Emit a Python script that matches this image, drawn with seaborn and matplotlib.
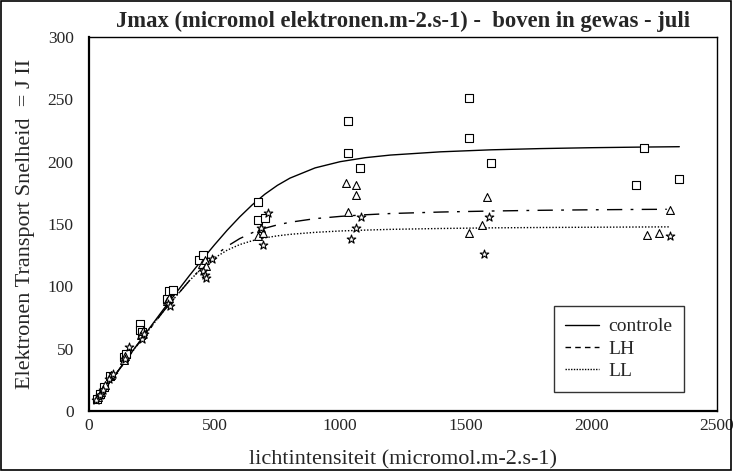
import matplotlib
matplotlib.use("Agg")
import matplotlib.pyplot as plt
from matplotlib.lines import Line2D
from matplotlib.patches import Rectangle
import numpy as np
import pandas as pd
import seaborn as sns

# ---------------- data ----------------
ctrl_x = [30, 45, 58, 85, 140, 147, 205, 203, 212, 310, 318, 335, 439, 453,
          674, 673, 700, 1030, 1030, 1080, 1511, 1511, 1602, 2209, 2176, 2348]
ctrl_y = [10, 14, 19, 28, 43, 46, 70, 65, 63, 90, 96, 97, 121, 125,
          168, 153, 155, 207, 233, 195, 251, 219, 199, 211, 181, 186]

lh_x = [35, 48, 62, 88, 138, 145, 208, 215, 312, 320, 448, 460, 465,
        672, 685, 692, 1022, 1062, 1062, 1031, 1584, 1564, 1513, 2311, 2221, 2271]
lh_y = [11, 15, 21, 29, 41, 44, 61, 64, 88, 91, 118, 121, 116,
        140, 147, 143, 183, 181, 173, 160, 172, 149, 143, 161, 141, 143]

ll_x = [28, 42, 55, 80, 95, 143, 160, 210, 218, 315, 322, 455, 460, 466, 488,
        714, 685, 694, 1083, 1063, 1042, 1594, 1573, 2311]
ll_y = [9, 13, 17, 26, 30, 42, 51, 58, 62, 86, 84, 112, 109, 107, 122,
        159, 147, 133, 156, 147, 138, 156, 126, 140]

# fitted curves
curve_x = [25, 100, 200, 300, 400, 450, 500, 550, 600, 650, 700, 750, 800,
           900, 1000, 1100, 1200, 1400, 1600, 1800, 2000, 2200]
ctrl_curve = [7.0, 27.9, 55.4, 82.5, 108.7, 121.3, 133.4, 145.0, 155.7, 165.4,
              173.9, 181.0, 186.8, 195.0, 200.0, 203.2, 205.3, 207.9, 209.5,
              210.5, 211.2, 211.7]
lh_curve = [7.0, 27.8, 54.9, 80.9, 104.6, 115.1, 124.4, 132.1, 138.3, 143.0,
            146.6, 149.3, 151.4, 154.3, 156.1, 157.4, 158.4, 159.6, 160.4,
            161.0, 161.4, 161.7]
ll_curve = [7.0, 27.8, 55.0, 81.1, 104.6, 114.6, 122.8, 129.0, 133.5, 136.6,
            138.9, 140.5, 141.7, 143.3, 144.4, 145.1, 145.7, 146.4, 146.9,
            147.2, 147.4, 147.6]
ctrl_end = (2350, 212.0)
lh_end = (2300, 161.8)
ll_end = (2310, 147.7)

title = "Jmax (micromol elektronen.m-2.s-1) -  boven in gewas - juli"
xlabel = "lichtintensiteit (micromol.m-2.s-1)"
ylabel = "Elektronen Transport Snelheid  = J II"
legend_labels = ["controle", "LH", "LL"]
xticks = [0, 500, 1000, 1500, 2000, 2500]
yticks = [0, 50, 100, 150, 200, 250, 300]

# ---------------- style ----------------
sns.set_theme(style="white")
plt.rcParams["font.family"] = ["Liberation Serif", "DejaVu Serif"]

fig = plt.figure(figsize=(7.33, 4.71), dpi=100)
ax = fig.add_axes([89 / 733, 1 - 411 / 471, (717 - 89) / 733, (411 - 37) / 471])

def curve_df(y, end):
    return pd.DataFrame({"x": curve_x + [end[0]], "y": y + [end[1]]})

sns.lineplot(data=curve_df(ctrl_curve, ctrl_end), x="x", y="y", ax=ax,
             color="black", linewidth=1.0, estimator=None, sort=False,
             errorbar=None, linestyle="-")
sns.lineplot(data=curve_df(lh_curve, lh_end), x="x", y="y", ax=ax,
             color="black", linewidth=1.0, estimator=None, sort=False,
             errorbar=None, linestyle=(0, (11, 6, 2, 6)))
sns.lineplot(data=curve_df(ll_curve, ll_end), x="x", y="y", ax=ax,
             color="black", linewidth=1.0, estimator=None, sort=False,
             errorbar=None, linestyle=(0, (1, 1.3)))

mk = dict(facecolor="white", edgecolor="black", linewidth=0.8, zorder=3)
sns.scatterplot(x=ctrl_x, y=ctrl_y, marker="s", s=28, ax=ax, **mk)
sns.scatterplot(x=lh_x, y=lh_y, marker="^", s=32, ax=ax, **mk)
sns.scatterplot(x=ll_x, y=ll_y, marker="*", s=42, ax=ax, **mk)

ax.set_xlim(0, 2500)
ax.set_ylim(0, 300)
ax.set_xticks(xticks)
ax.set_yticks(yticks)
ax.set_xticks([250, 750, 1250, 1750, 2250], minor=True)
ax.set_yticks([25, 75, 125, 175, 225, 275], minor=True)
ax.tick_params(axis="both", which="major", direction="in", length=11,
               width=1.0, color="black", labelsize=12.5, top=False, right=False)
ax.tick_params(axis="both", which="minor", direction="in", length=5.5,
               width=1.0, color="black", top=False, right=False)
ax.tick_params(axis="x", which="major", pad=5)
ax.tick_params(axis="y", which="major", pad=11)
for sp in ax.spines.values():
    sp.set_color("black")
    sp.set_linewidth(1.0)
ax.spines["left"].set_linewidth(1.6)
ax.spines["bottom"].set_linewidth(1.6)

ax.set_xlabel(xlabel, fontsize=16, labelpad=12)
ax.set_ylabel(ylabel, fontsize=16, labelpad=9)
ax.set_title(title, fontsize=16.3, fontweight="bold", pad=7)

handles = [Line2D([], [], color="black", lw=1.0, linestyle="-"),
           Line2D([], [], color="black", lw=1.0, linestyle=(0, (4, 3))),
           Line2D([], [], color="black", lw=1.0, linestyle=(0, (1, 1)))]
leg = ax.legend(handles, legend_labels, loc="lower right",
                bbox_to_anchor=(0.947, 0.051), fontsize=14, frameon=True,
                fancybox=False, edgecolor="black", handlelength=1.75,
                borderpad=0.6, labelspacing=0.25, handletextpad=0.45,
                borderaxespad=0.0)
leg.get_frame().set_linewidth(1.0)

fig.patches.append(Rectangle((0.002, 0.003), 0.995, 0.994, transform=fig.transFigure,
                             fill=False, edgecolor="black", linewidth=1.2))

fig.savefig("out.png", dpi=100)
